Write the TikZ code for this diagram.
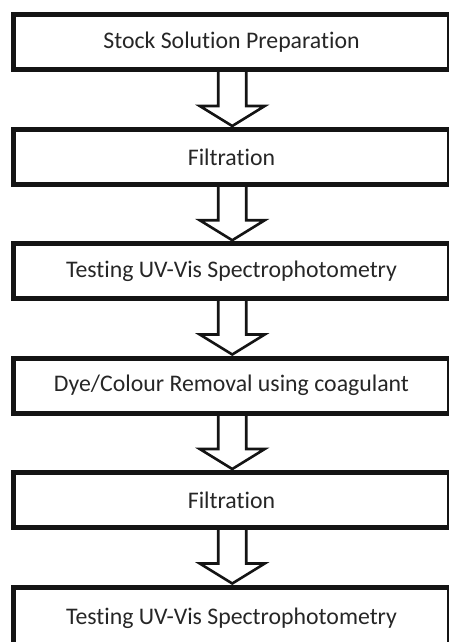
\documentclass[tikz,border=0pt]{standalone}
\usepackage{fontspec}
\setmainfont{Carlito}[Ligatures={NoCommon,NoRequired,NoContextual},Contextuals={NoAlternate}]
\usetikzlibrary{calc}
\begin{document}
\begin{tikzpicture}[x=1pt,y=-1pt,
  stepbox/.style={draw=black!92,line width=5pt,minimum width=436pt,minimum height=55pt,
    inner sep=0pt,outer sep=0pt,font=\fontsize{23.8}{27}\selectfont,text=black!85},
  blockarrow/.style={draw=black!92,line width=2.6pt,line join=miter}]
\useasboundingbox (0,0) rectangle (449,642);
\node[stepbox] (b1) at (231.5,42.25) {Stock Solution Preparation};
\node[stepbox] (b2) at (231.5,157) {Filtration};
\node[stepbox] (b3) at (231.5,271.25) {Testing UV-Vis Spectrophotometry};
\node[stepbox] (b4) at (231.5,385.5) {Dye/Colour Removal using coagulant};
\node[stepbox] (b5) at (231.5,500) {Filtration};
\node[stepbox,minimum height=62pt] (b6) at (231.5,618) {\raisebox{4pt}{Testing UV-Vis Spectrophotometry}};
\foreach \a/\b in {b1/b2,b2/b3,b3/b4,b4/b5,b5/b6}{
  \draw[blockarrow] ($(\a.south)+(-13.25,0)$) -- ($(\b.north)+(-13.25,-23.5)$)
    -- ($(\b.north)+(-31.75,-23.5)$) -- ($(\b.north)+(0.75,-3.5)$)
    -- ($(\b.north)+(33.25,-23.5)$) -- ($(\b.north)+(14.75,-23.5)$)
    -- ($(\a.south)+(14.75,0)$);
}
\end{tikzpicture}
\end{document}
